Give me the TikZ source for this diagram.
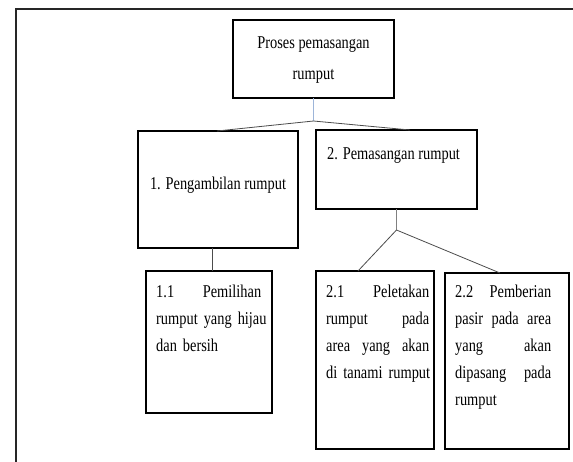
\documentclass[tikz,border=0pt]{standalone}
\usepackage{fontspec}
\setmainfont[FakeStretch=0.8]{Liberation Serif}
\definecolor{linkblue}{HTML}{9DB5D9}
\begin{document}
\begin{tikzpicture}[x=1pt,y=-1pt,
  box/.style={draw=black,line width=1.2pt,inner sep=0pt,outer sep=0pt},
  txt/.style={font=\fontsize{18}{27}\selectfont,inner sep=0pt,anchor=north west,align=left},
  ctxt/.style={font=\fontsize{18}{31}\selectfont,inner sep=0pt,align=center},
  conn/.style={draw=black!70,line width=0.8pt},
  blueconn/.style={draw=linkblue,line width=1pt}]
\useasboundingbox (0,0) rectangle (573,461);
\fill[white] (0,0) rectangle (573,461);
\draw[line width=2pt,black!85] (16,470) -- (16,9) -- (580,9);

\node[box,minimum width=161pt,minimum height=78pt] (top) at (313.5,59) {};
\node[box,minimum width=160pt,minimum height=117pt] (box1) at (218,189.5) {};
\node[box,minimum width=161pt,minimum height=79pt] (box2) at (396.5,169.5) {};
\node[box,minimum width=126pt,minimum height=142pt] (box11) at (209,342) {};
\node[box,minimum width=118pt,minimum height=178pt] (box21) at (375,360) {};
\node[box,minimum width=124pt,minimum height=176pt] (box22) at (507,361) {};

\node[ctxt] (ttop) at (313.5,60) {Proses pemasangan\\rumput};
\node[ctxt] (t1) at (218,185) {1. Pengambilan rumput};
\node[ctxt,anchor=west] (t2) at (327,155) {2. Pemasangan rumput};
\node[txt,text width=105pt] (t11) at (156,278) {\strut 1.1\hfill Pemilihan\\\makebox[\linewidth][s]{rumput yang hijau}\\dan bersih};
\node[txt,text width=103pt] (t21) at (326,278) {\strut 2.1\hfill Peletakan\\rumput\hfill pada\\area\hfill yang\hfill akan\\\makebox[\linewidth][s]{di tanami rumput}};
\node[txt,text width=96pt] (t22) at (455,278) {\strut 2.2\hfill Pemberian\\pasir\hfill pada\hfill area\\yang\hfill akan\\dipasang\hfill pada\\rumput};

\coordinate (j1) at (313.5,121);
\coordinate (j2) at (396.5,230);
\draw[blueconn] (top.south) -- (j1);
\draw[conn] (j1) -- ([xshift=-1pt]box1.north);
\draw[conn] (j1) -- ([xshift=13.5pt]box2.north);
\draw[conn] ([xshift=-6pt]box1.south) -- ([xshift=3pt]box11.north);
\draw[conn,black!50] (box2.south) -- (j2);
\draw[conn] (j2) -- ([xshift=-17pt]box21.north);
\draw[conn] (j2) -- ([xshift=-7pt]box22.north);
\end{tikzpicture}
\end{document}
